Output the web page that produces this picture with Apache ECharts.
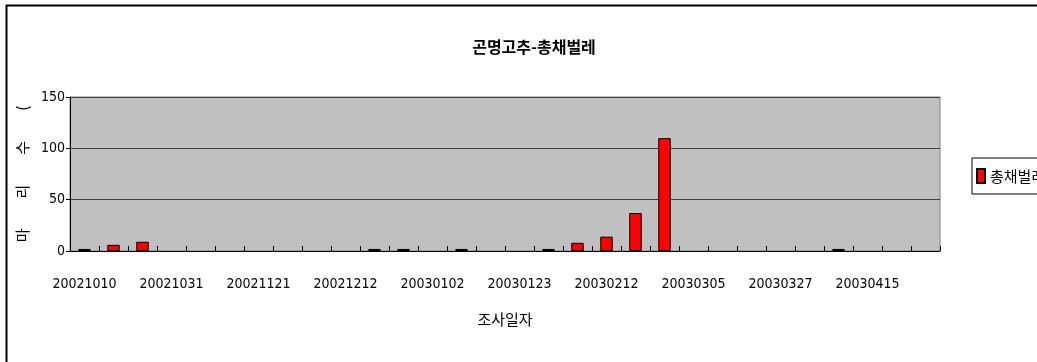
<!DOCTYPE html>
<html>
<head>
<meta charset="utf-8">
<script src="https://cdn.jsdelivr.net/npm/echarts@6/dist/echarts.min.js"></script>
<style>
html,body{margin:0;padding:0;background:#fff;}
#c{width:1037px;height:362px;}
</style>
</head>
<body>
<div id="c"></div>
<script>
var titleText = '곤명고추-총채벌레';
var seriesName = '총채벌레';
var xAxisName = '조사일자';
var yAxisName = '마\u3000\u3000리\u3000\u3000수\u3000\u3000(';
var categories = [
  '20021010','20021017','20021024','20021031','20021107','20021114',
  '20021121','20021128','20021205','20021212','20021219','20021226',
  '20030102','20030109','20030116','20030123','20030130','20030205',
  '20030212','20030219','20030226','20030305','20030312','20030319',
  '20030327','20030402','20030409','20030415','20030422','20030429'
];
var values = [
  2, 6, 9, 0, 0, 0,
  0, 0, 0, 0, 2, 2,
  0, 2, 0, 0, 2, 8,
  14, 37, 110, 0, 0, 0,
  0, 0, 2, 0, 0, 0
];
var yTicks = { min: 0, max: 150, interval: 50 };

var numFont = "'Liberation Sans Narrow','DejaVu Sans Condensed','Liberation Sans',sans-serif";
var krFont = "'Noto Sans CJK KR',sans-serif";

var barData = values.map(function (v) { return v === 0 ? '-' : v; });

var chart = echarts.init(document.getElementById('c'), null, {renderer: 'canvas'});
chart.setOption({
  animation: false,
  backgroundColor: '#ffffff',
  graphic: [{
    type: 'rect',
    shape: {x: 6.5, y: 5.5, width: 1200, height: 500},
    style: {fill: 'none', stroke: '#000', lineWidth: 2},
    silent: true
  }],
  title: {
    text: titleText,
    left: 529,
    textAlign: 'center',
    top: 34,
    textStyle: {fontFamily: krFont, fontSize: 16, fontWeight: 'bold', color: '#000'}
  },
  legend: {
    left: 972,
    top: 158,
    orient: 'vertical',
    borderColor: '#000',
    borderWidth: 1,
    padding: [10, 60, 10, 4],
    itemWidth: 8,
    itemHeight: 14,
    icon: 'rect',
    textStyle: {fontFamily: krFont, fontSize: 15, color: '#000'},
    data: [seriesName]
  },
  grid: {
    left: 70, right: 97, top: 97, bottom: 111,
    show: true,
    backgroundColor: '#C0C0C0',
    borderColor: '#808080',
    borderWidth: 1
  },
  xAxis: {
    type: 'category',
    data: categories,
    boundaryGap: true,
    name: xAxisName,
    nameLocation: 'middle',
    nameGap: 61,
    nameTextStyle: {fontFamily: krFont, fontSize: 15, color: '#000'},
    axisLine: {show: true, lineStyle: {color: '#000', width: 1}},
    axisTick: {show: true, inside: true, length: 5, interval: 0, lineStyle: {color: '#000'}},
    axisLabel: {interval: 2, margin: 26, fontFamily: numFont, fontSize: 14, color: '#000'},
    splitLine: {show: false}
  },
  yAxis: {
    type: 'value',
    min: yTicks.min, max: yTicks.max, interval: yTicks.interval,
    name: yAxisName,
    nameLocation: 'middle',
    nameRotate: 90,
    nameGap: 22,
    nameTextStyle: {fontFamily: krFont, fontSize: 15, color: '#000'},
    axisLine: {show: true, lineStyle: {color: '#000', width: 1}},
    axisTick: {show: true, inside: false, length: 4, lineStyle: {color: '#000'}},
    axisLabel: {margin: 5, fontFamily: numFont, fontSize: 14, color: '#000'},
    splitLine: {show: true, lineStyle: {color: '#404040', width: 1}}
  },
  series: [{
    name: seriesName,
    type: 'bar',
    data: barData,
    barCategoryGap: '57%',
    itemStyle: {color: '#FF0000', borderColor: '#000', borderWidth: 1}
  }]
});
</script>
</body>
</html>
